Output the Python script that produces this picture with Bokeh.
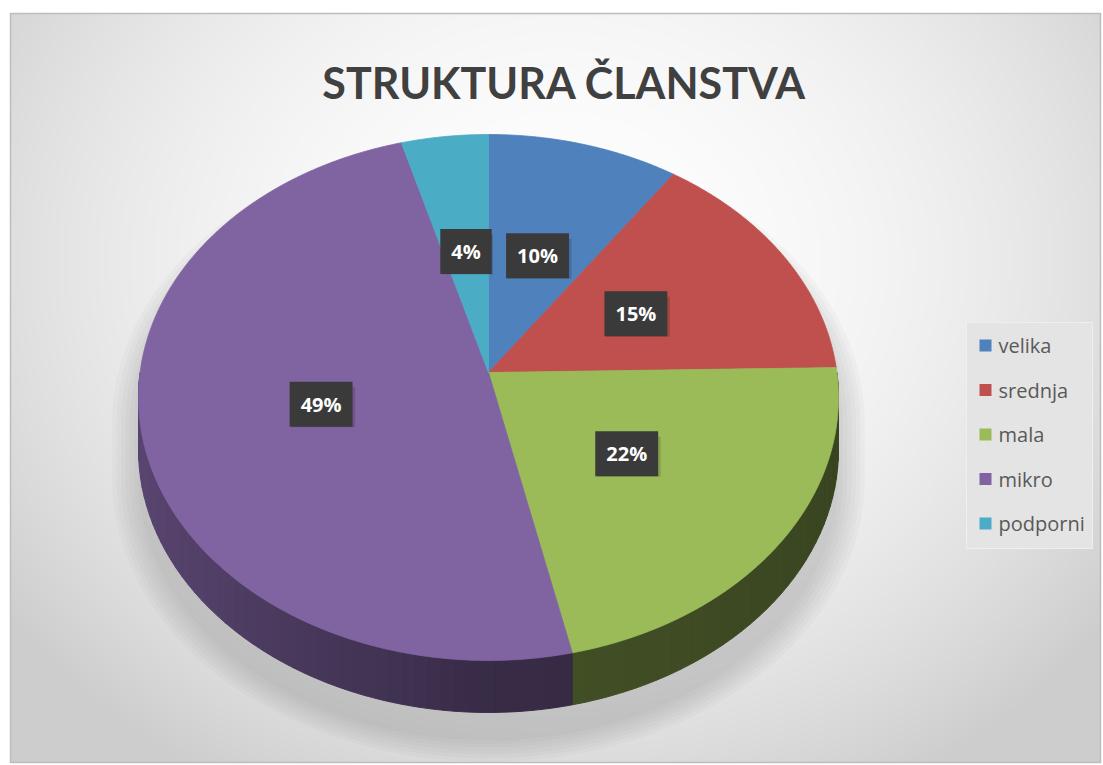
import numpy as np
from bokeh.plotting import figure
from bokeh.models import Range1d
from bokeh.core.properties import value
from bokeh.embed import file_html
from bokeh.resources import INLINE

# ---------------- data ----------------
categories = ["velika", "srednja", "mala", "mikro", "podporni"]
shares = [9.7, 15.0, 21.8, 49.1, 4.4]
colors = ["#4F81BD", "#C0504D", "#9BBB59", "#8064A2", "#4BACC6"]
title_text = "STRUKTURA ČLANSTVA"

# ---------------- layout / style ----------------
W, H = 1103, 765
X0, Y0 = 0, 0
CX, CY = 488, 372          # pie vertex on screen
RA, RB, K = 260.6, 348.4, 0.095   # perspective ellipse parameters
DEPTH = 52
FR_L, FR_R, FR_T, FR_B = 10, 1100, 13, 762


def proj(theta_deg, r=1.0):
    t = np.radians(theta_deg)
    x = r * np.sin(t)
    z = -r * np.cos(t)
    d = 1 - K * z
    return CX + RB * x / d, CY + RA * z / d


def hex2rgb(h):
    h = h.lstrip("#")
    return tuple(int(h[i:i + 2], 16) for i in (0, 2, 4))


def shade(h, f):
    r, g, b = hex2rgb(h)
    return "#%02x%02x%02x" % (int(r * f), int(g * f), int(b * f))


def side_factor(theta):
    s = np.sin(np.radians(theta))
    if s < 0:
        return 0.44 - 0.26 * s
    return 0.44 - 0.07 * s


p = figure(width=W, height=H, output_backend="svg", toolbar_location=None,
           x_range=Range1d(X0, X0 + W), y_range=Range1d(Y0 + H, Y0),
           min_border=0)
p.axis.visible = False
p.grid.visible = False
p.outline_line_color = None
p.background_fill_color = "white"
p.border_fill_color = "white"

# ---------------- background gradient ----------------
gw, gh = 545, 375
xs = np.linspace(FR_L, FR_R, gw)
ys = np.linspace(FR_T, FR_B, gh)
XX, YY = np.meshgrid(xs, ys)
dd = ((XX - 560) / 640.0) ** 2 + ((YY - 260) / 560.0) ** 2
g = np.clip(254 - 42 * dd, 205, 254).astype(np.uint32)
img = (255 << 24) | (g << 16) | (g << 8) | g
img = img.astype(np.uint32)
p.image_rgba(image=[img], x=FR_L, y=FR_T, dw=FR_R - FR_L, dh=FR_B - FR_T)
p.quad(left=[FR_L], right=[FR_R], top=[FR_T], bottom=[FR_B],
       fill_color=None, line_color="#bdbdbd", line_width=1.5)

# ---------------- pie geometry ----------------
total = float(sum(shares))
starts, ends = [], []
acc = 0.0
for v in shares:
    starts.append(acc / total * 360.0)
    acc += v
    ends.append(acc / total * 360.0)

# shadow
th = np.linspace(0, 360, 361)
sx, sy = proj(th)
front = (th > 95) & (th < 265)
sy = sy + DEPTH * front
for i, s in enumerate(np.linspace(1.0, 1.075, 7)):
    p.patch(x=list(CX + (sx - CX) * s), y=list(430 + (sy - 430) * s + 28),
            fill_color="#6f6f6f", fill_alpha=0.045, line_color=None)

# sides
side_x, side_y, side_c = [], [], []
for a0, a1, c in zip(starts, ends, colors):
    lo, hi = max(a0, 90.0), min(a1, 270.0)
    if hi <= lo:
        continue
    n = max(2, int(np.ceil((hi - lo) / 2.0)))
    edges = np.linspace(lo, hi, n + 1)
    for t0, t1 in zip(edges[:-1], edges[1:]):
        tt = np.linspace(t0, t1, 4)
        px, py = proj(tt)
        xs_ = list(px) + list(px[::-1])
        ys_ = list(py) + list((py + DEPTH)[::-1])
        side_x.append(xs_)
        side_y.append(ys_)
        side_c.append(shade(c, side_factor((t0 + t1) / 2)))
p.patches(xs=side_x, ys=side_y, fill_color=side_c, line_color=side_c, line_width=1)

# top faces
top_x, top_y = [], []
for a0, a1 in zip(starts, ends):
    tt = np.linspace(a0, a1, max(3, int((a1 - a0) * 2)))
    px, py = proj(tt)
    top_x.append([CX] + list(px))
    top_y.append([CY] + list(py))
p.patches(xs=top_x, ys=top_y, fill_color=colors, line_color=colors, line_width=0.8)

# data labels
lab_x, lab_y, lab_t = [], [], []
for a0, a1, v in zip(starts, ends, shares):
    mx, my = proj((a0 + a1) / 2.0, 0.49)
    lab_x.append(float(mx))
    lab_y.append(float(my))
    lab_t.append(f"{round(v / total * 100)}%")
p.rect(x=[x + 2 for x in lab_x], y=[y + 3 for y in lab_y],
       width=[22 + 14 * len(t) for t in lab_t], height=40,
       fill_color="black", fill_alpha=0.15, line_color=None)
p.text(x=lab_x, y=lab_y, text=lab_t, text_align="center", text_baseline="middle",
       text_font=value("Open Sans"), text_font_style="bold", text_font_size="20px",
       text_color="white", background_fill_color="#3a3a3a",
       padding=[11, 11, 9, 9])

# title
p.text(x=[564], y=[82], text=[title_text], text_align="center",
       text_baseline="alphabetic", text_font=value("Lato"),
       text_font_style="bold", text_font_size="43px", text_color="#404040")

# legend
LG_L, LG_R, LG_T, LG_B = 966, 1092, 322, 548
p.quad(left=[LG_L], right=[LG_R], top=[LG_T], bottom=[LG_B],
       fill_color="#e4e4e4", line_color="#efefef", line_width=1)
ly = [345 + 44.5 * i for i in range(len(categories))]
p.rect(x=[985] * len(categories), y=ly, width=12, height=12,
       fill_color=colors, line_color=None)
p.text(x=[998] * len(categories), y=ly, text=categories, text_align="left",
       text_baseline="middle", text_font=value("Open Sans"),
       text_font_size="20px", text_color="#595959")

open("out.html", "w").write(file_html(p, INLINE))
